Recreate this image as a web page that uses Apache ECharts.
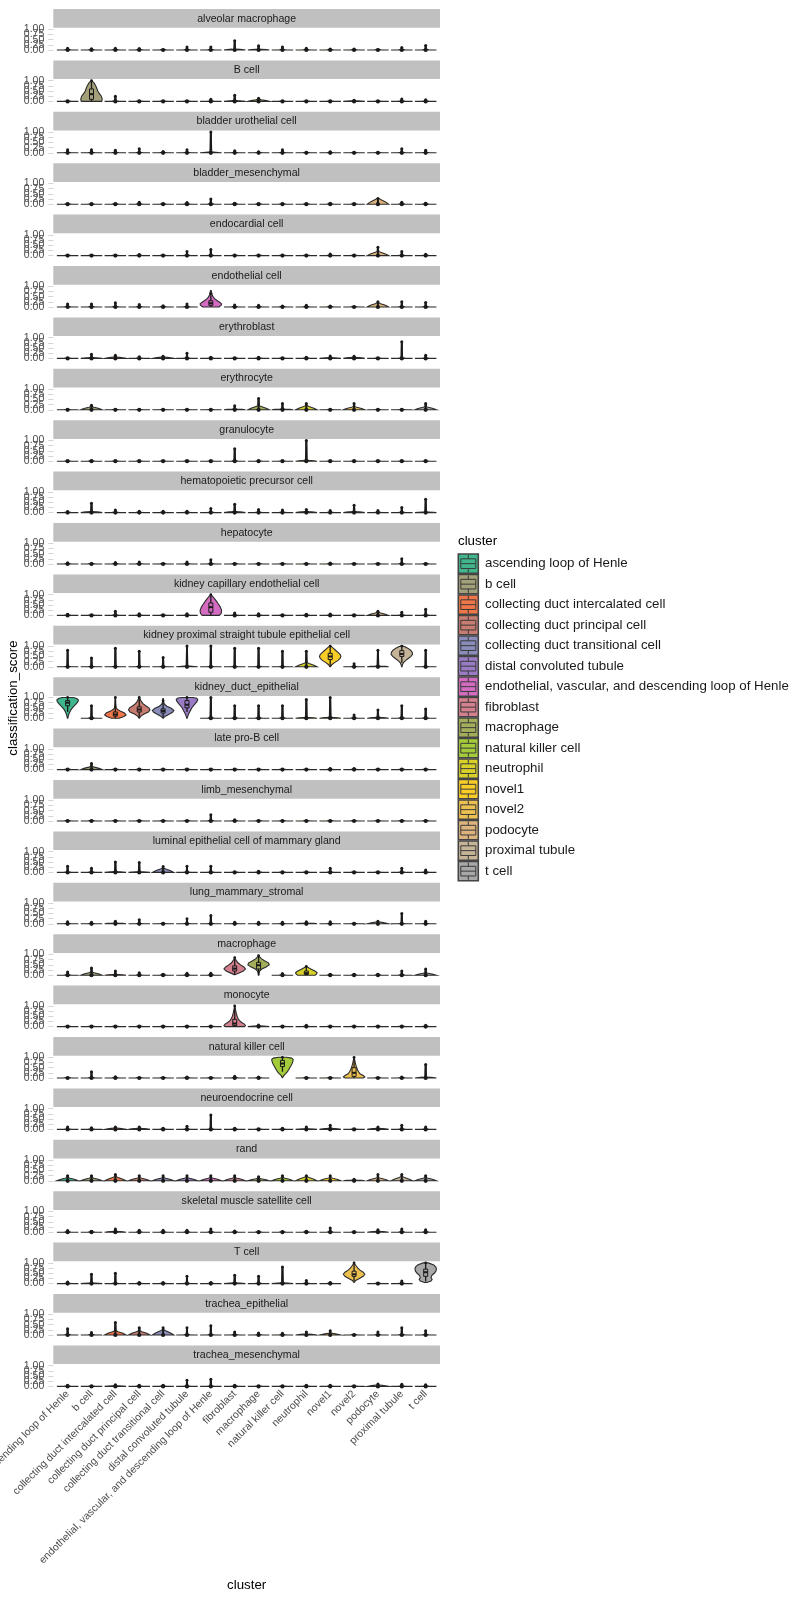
<!DOCTYPE html>
<html><head><meta charset="utf-8">
<script src="https://cdn.jsdelivr.net/npm/echarts@6.0.0/dist/echarts.min.js"></script>
<style>html,body{margin:0;padding:0;background:#fff}#c{width:800px;height:1600px}</style>
</head><body><div id="c"></div>
<script>
const clusters = ['ascending loop of Henle','b cell','collecting duct intercalated cell','collecting duct principal cell','collecting duct transitional cell','distal convoluted tubule','endothelial, vascular, and descending loop of Henle','fibroblast','macrophage','natural killer cell','neutrophil','novel1','novel2','podocyte','proximal tubule','t cell'];
const colors = ['#3FB68B','#A3A07A','#EE7648','#C87D70','#8A8DBA','#9A7CC4','#D36CC0','#D4808E','#A4AD5A','#A4CC3A','#D8D12C','#F8CD28','#EDC052','#DDB47E','#C5B497','#A8A8A8'];
const panels = ['alveolar macrophage','B cell','bladder urothelial cell','bladder_mesenchymal','endocardial cell','endothelial cell','erythroblast','erythrocyte','granulocyte','hematopoietic precursor cell','hepatocyte','kidney capillary endothelial cell','kidney proximal straight tubule epithelial cell','kidney_duct_epithelial','late pro-B cell','limb_mesenchymal','luminal epithelial cell of mammary gland','lung_mammary_stromal','macrophage','monocyte','natural killer cell','neuroendocrine cell','rand','skeletal muscle satellite cell','T cell','trachea_epithelial','trachea_mesenchymal'];
const yTicks = [0, 0.25, 0.5, 0.75, 1];

// highest classification_score reached in each panel (rows) by each cluster (columns)
const tailMax = [
 [.08,.06,.08,.07,.04,.15,.15,.45,.2,.15,.08,.05,.05,.04,.12,.22],
 [.04,1,.25,.03,.03,.04,.1,.3,.15,.04,.04,.04,.06,.03,.12,.08],
 [.15,.15,.12,.2,.06,.15,1,.1,.05,.15,.04,.05,.04,.04,.2,.12],
 [.04,.03,.04,.1,.04,.08,.25,.05,.04,.04,.04,.05,.04,.28,.1,.05],
 [.04,.03,.04,.05,.03,.2,.3,.04,.04,.03,.04,.08,.04,.4,.2,.06],
 [.15,.15,.2,.12,.06,.15,.8,.1,.08,.05,.08,.05,.03,.25,.25,.22],
 [.04,.2,.15,.08,.1,.25,.05,.04,.05,.04,.05,.12,.1,.03,.8,.15],
 [.03,.22,.04,.03,.03,.03,.03,.2,.55,.3,.3,.03,.3,.03,.04,.3],
 [.02,.04,.02,.02,.02,.02,.02,.6,.03,.03,1,.03,.03,.03,.03,.03],
 [.05,.45,.12,.06,.06,.06,.2,.4,.15,.12,.15,.1,.35,.1,.25,.65],
 [.06,.04,.07,.1,.04,.1,.2,.04,.04,.04,.04,.05,.04,.04,.25,.04],
 [.06,.04,.2,.08,.04,.08,1,.12,.08,.04,.06,.07,.04,.2,.15,.3],
 [.8,.42,.9,.75,.45,1,1,.9,.9,.75,.75,1,.15,.8,1,.8],
 [1,.6,1,1,.95,1,1,.6,.6,.6,.9,1,.15,.4,.6,.45],
 [.03,.3,.03,.03,.03,.03,.03,.03,.03,.03,.03,.05,.05,.03,.03,.03],
 [.03,.03,.03,.03,.03,.03,.3,.06,.03,.03,.03,.03,.03,.03,.03,.03],
 [.3,.2,.5,.48,.28,.3,.3,.04,.06,.04,.04,.2,.04,.03,.2,.12],
 [.1,.08,.12,.2,.04,.25,.4,.08,.08,.08,.1,.1,.03,.12,.5,.12],
 [.15,.35,.2,.12,.05,.1,.1,.85,.95,.08,.42,.05,.05,.05,.2,.3],
 [.03,.03,.03,.03,.03,.03,.03,1,.08,.03,.06,.03,.03,.03,.03,.06],
 [.03,.3,.06,.03,.03,.05,.03,.08,.05,1,.03,.03,1,.03,.05,.65],
 [.12,.08,.12,.12,.06,.15,.7,.06,.04,.06,.12,.2,.03,.12,.2,.12],
 [.25,.25,.3,.25,.25,.25,.25,.25,.2,.25,.25,.25,.08,.3,.3,.25],
 [.08,.05,.15,.1,.1,.1,.15,.06,.04,.04,.05,.2,.03,.12,.15,.12],
 [.08,.45,.5,.05,.05,.35,.05,.4,.35,.8,.15,.05,1,.03,.12,1],
 [.3,.12,.6,.35,.35,.35,.45,.15,.1,.08,.15,.2,.03,.15,.35,.2],
 [.06,.04,.08,.06,.05,.3,.35,.05,.04,.04,.06,.06,.03,.12,.1,.08]
];
// height of the dense body of each small violin
const bodyHeight = [
 [.02,.02,.02,.02,.02,.02,.02,.05,.04,.02,.03,.02,.02,.02,.02,.02],
 [.02,0,.02,.02,.02,.02,.02,.05,.1,.02,.02,.02,.04,.02,.02,.02],
 [.02,.02,.02,.02,.02,.02,.04,.02,.02,.02,.02,.02,.02,.02,.02,.02],
 [.02,.02,.02,.02,.02,.02,.03,.02,.02,.02,.02,.02,.02,.28,.02,.02],
 [.02,.02,.02,.02,.02,.02,.03,.02,.02,.02,.02,.02,.02,.2,.02,.02],
 [.02,.02,.03,.02,.02,.02,0,.02,.02,.02,.02,.02,.02,.2,.02,.02],
 [.02,.05,.08,.02,.08,.02,.02,.02,.02,.02,.02,.05,.06,.02,.02,.03],
 [.02,.15,.02,.02,.02,.02,.02,.05,.2,.05,.2,.02,.15,.02,.02,.15],
 [.02,.02,.02,.02,.02,.02,.02,.02,.02,.02,.06,.02,.02,.02,.02,.02],
 [.02,.06,.03,.02,.02,.02,.02,.06,.03,.02,.06,.03,.06,.03,.02,.04],
 [.02,.02,.02,.02,.02,.02,.02,.02,.02,.02,.02,.02,.02,.02,.02,.02],
 [.02,.02,.02,.02,.02,.02,0,.02,.02,.02,.02,.02,.02,.15,.02,.02],
 [.03,.03,.03,.03,.03,.04,.03,.03,.03,.03,.2,0,.03,.05,0,.03],
 [0,.03,0,0,0,0,.03,.03,.03,.03,.04,.05,.03,.05,.03,.03],
 [.02,.15,.02,.02,.02,.02,.02,.02,.02,.02,.02,.02,.03,.02,.02,.02],
 [.02,.02,.02,.02,.02,.02,.02,.02,.02,.02,.02,.02,.02,.02,.02,.02],
 [.02,.02,.05,.04,.2,.02,.02,.02,.02,.02,.02,.02,.02,.02,.02,.03],
 [.02,.02,.05,.03,.02,.02,.02,.02,.02,.02,.05,.02,.02,.1,.03,.03],
 [.02,.15,.04,.03,.02,.02,.02,0,0,.02,0,.02,.02,.02,.02,.12],
 [.02,.02,.02,.02,.02,.02,.02,0,.05,.02,.03,.02,.02,.02,.02,.02],
 [.02,.02,.02,.02,.02,.02,.02,.03,.02,0,.02,.02,0,.02,.02,.05],
 [.03,.02,.08,.06,.03,.03,.03,.02,.02,.02,.04,.06,.02,.06,.03,.03],
 [.15,.15,.2,.15,.15,.15,.15,.15,.12,.15,.2,.15,.05,.15,.2,.15],
 [.02,.02,.05,.02,.02,.02,.02,.02,.02,.02,.02,.02,.02,.06,.02,.02],
 [.02,.04,.02,.02,.02,.02,.02,.05,.02,.05,.02,.02,0,.02,.02,0],
 [.03,.03,.2,.2,.25,.03,.03,.02,.02,.02,.05,.1,.02,.03,.03,.03],
 [.02,.02,.04,.02,.02,.02,.02,.02,.02,.02,.02,.02,.02,.08,.02,.02]
];
// large violins: density profile [score, relative width] and box [min, q1, median, q3, max]
const bigViolins = [
 {panel:1, cluster:1, profile:[[0,.95],[.1,1],[.25,.92],[.4,.7],[.5,.58],[.62,.5],[.75,.4],[.88,.25],[1,.03]], box:[0,.1,.35,.6,1]},
 {panel:5, cluster:6, profile:[[0,.75],[.08,.95],[.15,1],[.22,.85],[.3,.6],[.4,.35],[.5,.2],[.62,.1],[.8,.03]], box:[0,.08,.18,.3,.65]},
 {panel:11, cluster:6, profile:[[0,.8],[.1,.97],[.25,1],[.4,.88],[.55,.7],[.7,.5],[.85,.28],[.95,.1],[1,.02]], box:[0,.15,.4,.6,1]},
 {panel:12, cluster:11, profile:[[0,.03],[.1,.15],[.2,.4],[.3,.7],[.4,.92],[.5,1],[.6,.92],[.7,.72],[.8,.5],[.9,.28],[1,.05]], box:[0,.35,.5,.65,1]},
 {panel:12, cluster:14, profile:[[0,.02],[.1,.06],[.2,.15],[.3,.35],[.4,.6],[.5,.85],[.6,1],[.7,.97],[.8,.82],[.9,.55],[.97,.3],[1,.1]], box:[.2,.5,.62,.78,1]},
 {panel:13, cluster:0, profile:[[0,.02],[.1,.06],[.2,.12],[.3,.2],[.4,.3],[.5,.45],[.6,.62],[.7,.82],[.8,.97],[.88,1],[.95,.85],[1,.5]], box:[.3,.6,.75,.85,1]},
 {panel:13, cluster:2, profile:[[0,.35],[.08,.8],[.16,1],[.25,.85],[.33,.5],[.42,.2],[.5,.08],[.7,.04],[1,.02]], box:[0,.1,.18,.3,1]},
 {panel:13, cluster:3, profile:[[0,.02],[.1,.15],[.2,.45],[.3,.85],[.4,1],[.5,.9],[.6,.6],[.7,.35],[.8,.2],[.9,.1],[1,.03]], box:[.05,.3,.42,.55,1]},
 {panel:13, cluster:4, profile:[[0,.02],[.1,.2],[.2,.6],[.3,.9],[.38,1],[.48,.75],[.58,.35],[.68,.12],[.8,.05],[.95,.02]], box:[.05,.25,.35,.45,.85]},
 {panel:13, cluster:5, profile:[[0,.02],[.1,.08],[.2,.15],[.3,.25],[.4,.35],[.5,.45],[.6,.6],[.7,.77],[.8,.92],[.9,1],[.96,.9],[1,.55]], box:[.3,.5,.65,.85,1]},
 {panel:18, cluster:7, profile:[[.03,.05],[.1,.35],[.2,.8],[.3,1],[.4,.85],[.5,.55],[.6,.3],[.7,.15],[.8,.05],[.85,.02]], box:[.03,.2,.32,.45,.85]},
 {panel:18, cluster:8, profile:[[0,.02],[.1,.05],[.2,.1],[.3,.3],[.4,.7],[.5,1],[.6,.92],[.7,.55],[.8,.25],[.9,.08],[.95,.02]], box:[0,.3,.48,.62,.95]},
 {panel:18, cluster:10, profile:[[0,.8],[.05,.95],[.12,1],[.2,.8],[.28,.5],[.35,.25],[.42,.03]], box:[0,.03,.1,.2,.42]},
 {panel:19, cluster:7, profile:[[0,.9],[.05,1],[.12,.9],[.2,.65],[.3,.42],[.4,.3],[.5,.22],[.65,.14],[.8,.08],[.92,.04],[1,.02]], box:[0,.05,.15,.35,1]},
 {panel:20, cluster:9, profile:[[.02,.02],[.1,.1],[.2,.28],[.3,.45],[.4,.58],[.5,.68],[.6,.8],[.7,.9],[.8,.97],[.9,1],[.96,.85],[1,.4]], box:[.3,.55,.7,.85,1]},
 {panel:20, cluster:12, profile:[[0,.85],[.05,1],[.12,.85],[.2,.55],[.3,.42],[.4,.32],[.5,.25],[.6,.18],[.72,.12],[.85,.07],[1,.02]], box:[0,.08,.25,.5,1]},
 {panel:24, cluster:12, profile:[[.05,.02],[.15,.15],[.25,.5],[.35,.85],[.45,1],[.55,.85],[.65,.55],[.75,.35],[.85,.2],[.95,.07],[1,.02]], box:[.1,.35,.45,.6,1]},
 {panel:24, cluster:15, profile:[[.05,.1],[.12,.5],[.2,.6],[.3,.5],[.4,.58],[.5,.8],[.6,.95],[.7,1],[.8,.95],[.9,.75],[1,.25]], box:[.1,.35,.55,.7,1]}
];

const FONT = 'Liberation Sans, Arial, Helvetica, sans-serif';
const PX0 = 53.3, PX1 = 440;
const UNIT = (PX1 - PX0) / 16.2;
const GL = PX0 + 0.1 * UNIT, GW = 16 * UNIT;
const PITCH = 51.4, ZERO0 = 50, UNITY = 20.7;
// tick labels sit so close together that they are split over three stacked axes
const LABEL_GROUPS = [[0, 0.75], [0.25, 1], [0.5]];

function buildProfile(p, j) {
  const big = bigViolins.find(v => v.panel === p && v.cluster === j);
  if (big) return big.profile;
  const t = tailMax[p][j], b = bodyHeight[p][j];
  if (b >= 0.04) return [[0,1],[b*0.4,0.7],[b*0.8,0.25],[b,0.08],[Math.max(t, b + 0.01),0.03]];
  return [[0,1],[0.012,0.3],[0.03,0.07],[Math.max(t,0.035),0.03]];
}

function makeRender(p) {
  return function (params, api) {
    const j = api.value(0);
    const c0 = api.coord([j, 0]);
    const c1 = api.coord([j, 1]);
    const cx = c0[0], y0 = c0[1], uy = y0 - c1[1];
    const band = api.size([1, 0])[0];
    const hw = 0.45 * band;
    const Y = v => y0 - v * uy;
    const prof = buildProfile(p, j);
    const right = prof.map(([v, w]) => [cx + w * hw, Y(v)]);
    const left = prof.slice().reverse().map(([v, w]) => [cx - w * hw, Y(v)]);
    const ch = [{type:'polygon', shape:{points: right.concat(left)}, style:{fill: colors[j], stroke:'#2b2b2b', lineWidth:1.1}}];
    const big = bigViolins.find(v => v.panel === p && v.cluster === j);
    if (big) {
      const [lo, q1, md, q3, hi] = big.box;
      ch.push({type:'line', shape:{x1:cx, y1:Y(lo), x2:cx, y2:Y(hi)}, style:{stroke:'#1a1a1a', lineWidth:1.3}});
      ch.push({type:'rect', shape:{x:cx-2, y:Y(q3), width:4, height:Y(q1)-Y(q3)}, style:{fill:colors[j], stroke:'#1a1a1a', lineWidth:1}});
      ch.push({type:'rect', shape:{x:cx-2, y:Y(md)-1, width:4, height:2}, style:{fill:'#1a1a1a'}});
      ch.push({type:'circle', shape:{cx:cx, cy:Y(hi), r:1.4}, style:{fill:'#1a1a1a'}});
    } else {
      const t = tailMax[p][j];
      if (t > 0.045) {
        ch.push({type:'line', shape:{x1:cx, y1:Y(0), x2:cx, y2:Y(t)}, style:{stroke:'#1a1a1a', lineWidth:2}});
        ch.push({type:'circle', shape:{cx:cx, cy:Y(t), r:1.5}, style:{fill:'#1a1a1a'}});
      }
      ch.push({type:'circle', shape:{cx:cx, cy:Y(0), r:2.1}, style:{fill:'#1a1a1a'}});
    }
    return {type:'group', children: ch};
  };
}

const grids = [], xAxes = [], yAxes = [], series = [], graphics = [];
const last = panels.length - 1;
panels.forEach((name, i) => {
  const zero = ZERO0 + PITCH * i;
  grids.push({left: GL, width: GW, top: zero - UNITY, height: UNITY, containLabel:false, outerBoundsMode:'none'});
  xAxes.push({gridIndex:i, type:'category', data: clusters, boundaryGap:true,
    axisLine:{show:false}, axisTick:{show:false}, splitLine:{show:false},
    axisLabel: i === last ? {show:true, interval:0, rotate:45, fontSize:10.5, color:'#4d4d4d', fontFamily:FONT, margin:6, hideOverlap:false} : {show:false}});
  const firstY = yAxes.length;
  LABEL_GROUPS.forEach((grp, g) => {
    yAxes.push({gridIndex:i, type:'value', position:'left', min:yTicks[0], max:yTicks[yTicks.length-1], interval:0.25, offset:2.4,
      axisLine:{show:false}, splitLine:{show:false},
      axisTick:{show: g === 0, length:5, lineStyle:{color:'#d4d4d4', width:1}},
      axisLabel:{show:true, showMinLabel:true, showMaxLabel:true, hideOverlap:false,
        formatter: v => grp.some(t => Math.abs(t - v) < 1e-9) ? Number(v).toFixed(2) : '',
        fontSize:10.5, color:'#4d4d4d', fontFamily:FONT, margin:9}});
  });
  series.push({type:'custom', xAxisIndex:i, yAxisIndex:firstY, clip:false, silent:true,
    encode:{x:0, y:1}, data: clusters.map((c, j) => [j, tailMax[i][j]]), renderItem: makeRender(i)});
  const st = 9 + PITCH * i;
  graphics.push({type:'rect', shape:{x:PX0, y:st, width:PX1-PX0, height:18.7}, style:{fill:'#C0C0C0'}, silent:true});
  graphics.push({type:'text', x:(PX0+PX1)/2, y:st + 9.6, style:{text:name, fill:'#1a1a1a', font:'10.6px ' + FONT, textAlign:'center', textVerticalAlign:'middle'}, silent:true});
});

// axis titles
graphics.push({type:'text', x:13, y:698, rotation:Math.PI/2, style:{text:'classification_score', fill:'#000', font:'13.3px ' + FONT, textAlign:'center', textVerticalAlign:'middle'}});
graphics.push({type:'text', x:(PX0+PX1)/2, y:1585.7, style:{text:'cluster', fill:'#000', font:'13.3px ' + FONT, textAlign:'center', textVerticalAlign:'middle'}});

// legend
graphics.push({type:'text', x:458, y:541.7, style:{text:'cluster', fill:'#000', font:'13.3px ' + FONT, textAlign:'left', textVerticalAlign:'middle'}});
clusters.forEach((c, i) => {
  const top = 554 + 20.5 * i, x = 458.3, w = 20, h = 19.3;
  const line = (x1, y1, x2, y2) => ({type:'line', shape:{x1, y1, x2, y2}, style:{stroke:'#3a3a3a', lineWidth:1}});
  graphics.push({type:'group', children:[
    {type:'rect', shape:{x:x, y:top, width:w, height:h}, style:{fill:colors[i], stroke:'#444', lineWidth:1.6}},
    {type:'rect', shape:{x:x + w*0.125, y:top + h*0.25, width:w*0.75, height:h*0.5}, style:{fill:'none', stroke:'#3a3a3a', lineWidth:1}},
    line(x + w*0.125, top + h*0.5, x + w*0.875, top + h*0.5),
    line(x + w*0.5, top + 1, x + w*0.5, top + h*0.25),
    line(x + w*0.5, top + h*0.75, x + w*0.5, top + h - 1)
  ]});
  graphics.push({type:'text', x:485, y:top + h/2, style:{text:c, fill:'#1a1a1a', font:'13.3px ' + FONT, textAlign:'left', textVerticalAlign:'middle'}});
});

const chart = echarts.init(document.getElementById('c'), null, {renderer:'canvas'});
chart.setOption({
  animation:false, backgroundColor:'#ffffff',
  grid: grids, xAxis: xAxes, yAxis: yAxes, series: series, graphic: graphics
});
</script>
</body></html>
